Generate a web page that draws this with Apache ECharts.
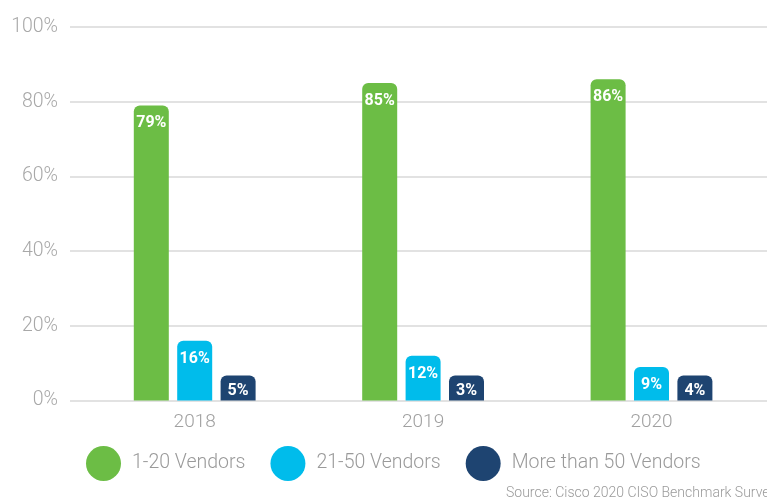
<!DOCTYPE html>
<html>
<head>
<meta charset="utf-8">
<script src="https://cdn.jsdelivr.net/npm/echarts@6/dist/echarts.min.js"></script>
<style>
html,body{margin:0;padding:0;background:#fff;}
#c{width:767px;height:499px;}
</style>
</head>
<body>
<div id="c"></div>
<script>
const categories = ['2018', '2019', '2020'];
const seriesNames = ['1-20 Vendors', '21-50 Vendors', 'More than 50 Vendors'];
const vendors1to20 = [79, 85, 86];
const vendors21to50 = [16, 12, 9];
const vendorsOver50 = [5, 3, 4];
const yTicks = [0, 20, 40, 60, 80, 100];
const sourceText = 'Source: Cisco 2020 CISO Benchmark Survey';

const colors = ['#6cbd45', '#00bceb', '#1e4471'];
const FONT = 'Roboto';
const chart = echarts.init(document.getElementById('c'));

function barSeries(name, data, color, pos, dist, minH) {
  return {
    name: name, type: 'bar', data: data, xAxisIndex: 1, yAxisIndex: 1,
    barWidth: 35, barGap: '24%', barMinHeight: minH,
    itemStyle: { color: color, borderRadius: [6, 6, 0, 0] },
    label: {
      show: true, position: pos, distance: dist, formatter: '{c}%',
      color: '#fff', fontFamily: FONT, fontWeight: 'bold', fontSize: 16
    }
  };
}

chart.setOption({
  animation: false,
  color: colors,
  grid: [
    { left: 70, right: 0, top: 27, bottom: 98.5 },
    { left: 80.5, right: 1.3, top: 27, bottom: 98.5 }
  ],
  xAxis: [
    { type: 'value', gridIndex: 0, show: false, min: 0, max: 1 },
    {
      type: 'category', gridIndex: 1, data: categories,
      axisLine: { show: false }, axisTick: { show: false },
      axisLabel: { color: '#a0a0a0', fontFamily: FONT, fontWeight: 300, fontSize: 19, margin: 12 }
    }
  ],
  yAxis: [
    {
      type: 'value', gridIndex: 0, min: yTicks[0], max: yTicks[yTicks.length - 1], interval: 20,
      axisLine: { show: false }, axisTick: { show: false },
      axisLabel: { color: '#a8a8a8', fontFamily: FONT, fontWeight: 300, fontSize: 19.5, margin: 12, formatter: '{value}%' },
      splitLine: { lineStyle: { color: '#d9d9d9', width: 1.5 } }
    },
    { type: 'value', gridIndex: 1, min: 0, max: 100, show: false, splitLine: { show: false } }
  ],
  legend: {
    data: seriesNames, left: 81, top: 441, icon: 'circle',
    itemWidth: 35, itemHeight: 35, itemGap: 25,
    textStyle: { color: '#9a9a9a', fontFamily: FONT, fontWeight: 300, fontSize: 19.5, padding: [0, 0, 0, 6] }
  },
  graphic: [{
    type: 'text', left: 506, top: 486,
    style: { text: sourceText, fill: '#9a9a9a', font: '300 14px Roboto' }
  }],
  series: [
    barSeries(seriesNames[0], vendors1to20, colors[0], 'insideTop', 10, 0),
    barSeries(seriesNames[1], vendors21to50, colors[1], 'insideTop', 10, 0),
    barSeries(seriesNames[2], vendorsOver50, colors[2], 'insideBottom', 2, 25)
  ]
});
</script>
</body>
</html>
